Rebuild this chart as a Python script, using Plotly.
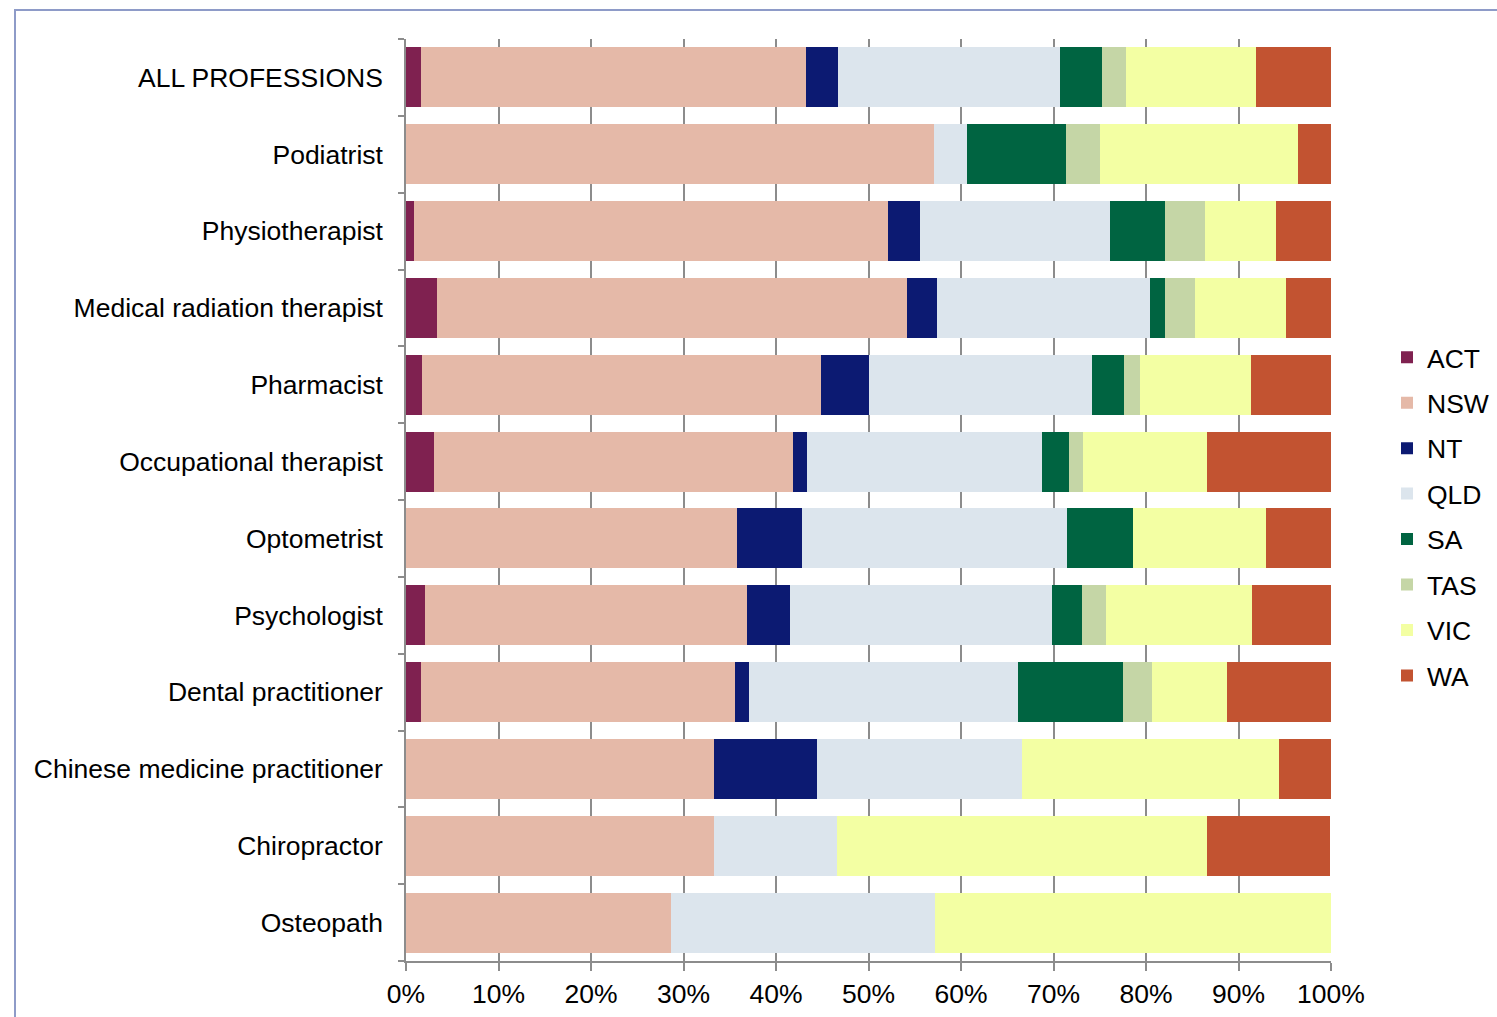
import plotly.graph_objects as go

# Professions, top to bottom
professions = [
    "ALL PROFESSIONS",
    "Podiatrist",
    "Physiotherapist",
    "Medical radiation therapist",
    "Pharmacist",
    "Occupational therapist",
    "Optometrist",
    "Psychologist",
    "Dental practitioner",
    "Chinese medicine practitioner",
    "Chiropractor",
    "Osteopath",
]

# Share of each state/territory (%), same order as professions
act = [1.6, 0.0, 0.9, 3.4, 1.7, 3.0, 0.0, 2.1, 1.6, 0.0, 0.0, 0.0]
nsw = [41.6, 57.1, 51.2, 50.8, 43.2, 38.8, 35.8, 34.8, 34.0, 33.3, 33.3, 28.6]
nt = [3.5, 0.0, 3.5, 3.2, 5.2, 1.6, 7.0, 4.6, 1.5, 11.1, 0.0, 0.0]
qld = [24.0, 3.6, 20.5, 23.0, 24.1, 25.4, 28.7, 28.3, 29.1, 22.2, 13.3, 28.6]
sa = [4.5, 10.7, 5.9, 1.7, 3.4, 2.9, 7.1, 3.3, 11.3, 0.0, 0.0, 0.0]
tas = [2.6, 3.6, 4.4, 3.2, 1.8, 1.5, 0.0, 2.6, 3.1, 0.0, 0.0, 0.0]
vic = [14.1, 21.4, 7.7, 9.8, 12.0, 13.4, 14.4, 15.8, 8.2, 27.8, 40.0, 42.8]
wa = [8.1, 3.6, 5.9, 4.9, 8.6, 13.4, 7.0, 8.5, 11.2, 5.6, 13.3, 0.0]

states = ["ACT", "NSW", "NT", "QLD", "SA", "TAS", "VIC", "WA"]
colors = ["#7F2150", "#E5B9A8", "#0C1A72", "#DCE5ED",
          "#006441", "#C5D6A6", "#F3FFA3", "#C25331"]
series = [act, nsw, nt, qld, sa, tas, vic, wa]

x_ticks = list(range(0, 101, 10))
x_tick_labels = [f"{v}%" for v in x_ticks]

FONT = "Liberation Sans, Arial, sans-serif"
FONT_SIZE = 26.5

fig = go.Figure()
for name, color, vals in zip(states, colors, series):
    fig.add_trace(go.Bar(
        y=professions,
        x=vals,
        name=name,
        orientation="h",
        marker=dict(color=color, line=dict(width=0)),
        legendgroup=name,
        hoverinfo="name+x",
    ))

fig.update_layout(
    barmode="stack",
    bargap=0.22,
    width=1497,
    height=1017,
    margin=dict(l=406, r=166, t=39, b=56, autoexpand=False),
    paper_bgcolor="white",
    plot_bgcolor="white",
    font=dict(family=FONT, size=FONT_SIZE, color="black"),
    legend=dict(
        xref="container", yref="container",
        x=1387 / 1497, xanchor="left",
        y=(1017 - 516.5) / 1017, yanchor="middle",
        traceorder="grouped",
        tracegroupgap=8,
        font=dict(family=FONT, size=FONT_SIZE, color="black"),
        bgcolor="rgba(0,0,0,0)",
    ),
    showlegend=True,
)

fig.update_xaxes(
    range=[0, 100],
    tickmode="array",
    tickvals=x_ticks,
    ticktext=x_tick_labels,
    showgrid=True,
    gridcolor="#8C8C8C",
    gridwidth=1.5,
    showline=True,
    linecolor="#8C8C8C",
    linewidth=1.5,
    ticks="outside",
    ticklen=8,
    tickwidth=1.5,
    tickcolor="#8C8C8C",
    zeroline=False,
    tickfont=dict(family=FONT, size=FONT_SIZE, color="black"),
)

fig.update_yaxes(
    categoryorder="array",
    categoryarray=professions[::-1],
    showgrid=False,
    showline=True,
    linecolor="#8C8C8C",
    linewidth=1.5,
    ticks="outside",
    tickson="boundaries",
    ticklen=6,
    tickwidth=1.5,
    tickcolor="#8C8C8C",
    ticklabelstandoff=16,
    tickfont=dict(family=FONT, size=FONT_SIZE, color="black"),
)

# Outer chart frame
fig.add_shape(
    type="rect", xref="paper", yref="paper",
    x0=(15 - 406) / 925, x1=(1520 - 406) / 925,
    y0=(961 - 1030) / 922, y1=(961 - 10) / 922,
    line=dict(color="#8E9BC8", width=2),
    fillcolor="rgba(0,0,0,0)",
    layer="below",
)

fig.write_html("out.html")
